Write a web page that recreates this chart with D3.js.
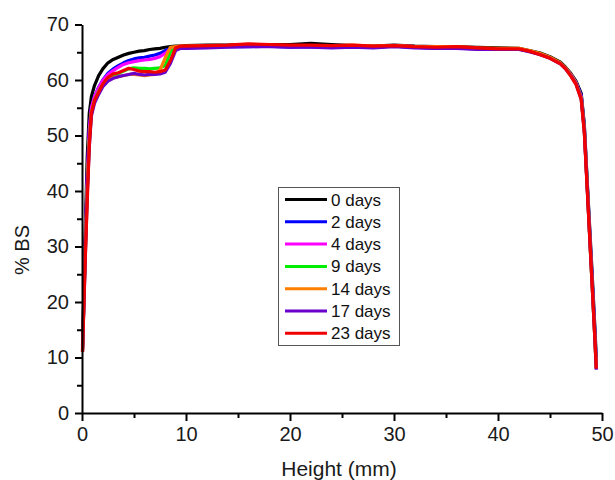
<!DOCTYPE html>
<html>
<head>
<meta charset="utf-8">
<script src="https://cdn.jsdelivr.net/npm/d3@7"></script>
<style>
  body { margin: 0; background: #fff; }
  text { font-family: Arial, "Liberation Sans", sans-serif; }
</style>
</head>
<body>
<script>
// sample heights (mm), shared by all series
var heights = [0.05, 0.3, 0.5, 0.7, 0.9, 1.2, 1.6, 2.0, 2.5, 3.0, 3.5, 4.0, 4.5, 5.0, 5.5, 6.0, 6.5, 7.0, 7.5, 8.0, 8.5, 9.0, 9.5, 10,
  12, 14, 16, 18, 20, 22, 24, 26, 28, 30, 32, 34, 36, 38, 40, 42, 43, 44, 45, 46, 46.5, 47, 47.5, 48, 48.3, 48.6, 49.0, 49.3, 49.45];

var days0 = [12, 32, 46, 54, 57, 59, 60.8, 62, 63.1, 63.7, 64.1, 64.5, 64.8, 65.0, 65.2, 65.3, 65.5, 65.6, 65.7, 65.9, 66.0, 66.1, 66.1, 66.2,
  66.3, 66.3, 66.4, 66.4, 66.4, 66.6, 66.4, 66.2, 66.1, 66.3, 66.1, 66.0, 66.0, 65.9, 65.8, 65.7, 65.3, 64.9, 64.2, 63.2, 62.3, 61.2, 59.8, 57.6, 52, 41, 27, 16, 10];
var days2 = [11.5, 29, 42, 51, 55, 57, 58.7, 60, 61.2, 62, 62.6, 63.1, 63.5, 63.8, 64.0, 64.1, 64.3, 64.5, 64.8, 65.3, 65.7, 65.8, 65.8, 65.8,
  65.9, 66.0, 66.0, 66.1, 65.9, 66.0, 65.9, 66.0, 65.9, 66.1, 65.9, 65.7, 65.8, 65.6, 65.6, 65.6, 65.2, 64.7, 64.0, 63.0, 62.1, 61.0, 59.6, 57.3, 51.5, 40.5, 26, 15, 9];
var days4 = [11.5, 29, 42, 51, 55, 57, 58.6, 59.9, 61.0, 61.7, 62.3, 62.8, 63.1, 63.3, 63.5, 63.6, 63.7, 63.9, 64.2, 64.8, 65.6, 65.9, 66.0, 66.0,
  66.1, 66.1, 66.2, 66.2, 66.1, 66.1, 66.0, 66.1, 66.0, 66.2, 66.0, 65.8, 65.9, 65.7, 65.6, 65.6, 65.2, 64.7, 64.0, 63.0, 62.1, 61.0, 59.5, 57.0, 51, 40, 25.5, 14.5, 8.5];
var days9 = [11.2, 28, 40, 49, 54, 56.3, 57.9, 59.2, 60.3, 60.8, 61.2, 61.6, 62.0, 62.2, 62.1, 62.1, 62.0, 62.1, 62.2, 62.6, 65.0, 65.8, 65.9, 65.9,
  66.0, 66.1, 66.2, 66.2, 66.1, 66.1, 66.0, 66.1, 66.0, 66.1, 65.9, 65.8, 65.9, 65.7, 65.6, 65.6, 65.2, 64.7, 64.0, 63.0, 62.1, 60.9, 59.4, 56.8, 51, 40, 25, 14, 8];
var days14 = [11.2, 28, 40, 49, 54, 56.2, 57.7, 59.0, 60.0, 60.4, 60.6, 60.8, 61.0, 61.0, 60.9, 60.8, 60.9, 61.0, 61.8, 64.0, 65.9, 66.0, 66.1, 66.1,
  66.2, 66.2, 66.4, 66.3, 66.2, 66.2, 66.1, 66.3, 66.1, 66.2, 66.0, 66.0, 66.0, 65.8, 65.7, 65.7, 65.3, 64.8, 64.1, 63.1, 62.2, 61.0, 59.5, 56.8, 51, 40, 25, 14, 8];
var days17 = [11, 27, 39, 48, 53.5, 55.8, 57.4, 58.8, 59.8, 60.3, 60.6, 60.8, 61.0, 61.2, 61.0, 60.9, 61.0, 61.0, 61.1, 61.4, 63.0, 65.3, 65.7, 65.7,
  65.8, 65.9, 66.0, 66.0, 65.9, 65.9, 65.8, 65.9, 65.8, 66.0, 65.8, 65.7, 65.7, 65.5, 65.5, 65.5, 65.1, 64.6, 63.9, 62.9, 62.0, 60.8, 59.3, 56.6, 50.8, 39.8, 25, 14, 7.8];
var days23 = [11, 27, 38, 48, 54, 56.3, 57.8, 59.3, 60.5, 61.1, 61.3, 61.7, 62.1, 61.9, 61.6, 61.5, 61.5, 61.4, 61.5, 61.8, 63.5, 65.8, 66.1, 66.1,
  66.2, 66.3, 66.5, 66.4, 66.3, 66.3, 66.2, 66.3, 66.1, 66.2, 66.0, 65.9, 66.0, 65.8, 65.6, 65.6, 65.2, 64.6, 63.9, 62.9, 62.0, 60.7, 59.2, 56.5, 50.5, 39.5, 25, 14, 8];

var seriesNames = ["0 days", "2 days", "4 days", "9 days", "14 days", "17 days", "23 days"];
var seriesValues = [days0, days2, days4, days9, days14, days17, days23];
var colors = ["#000000", "#0000ff", "#ff00ff", "#00ee00", "#ff8000", "#6a00cc", "#f00000"];

var xTicks = [0, 10, 20, 30, 40, 50];
var yTicks = [0, 10, 20, 30, 40, 50, 60, 70];

var width = 615, height = 480;

var svg = d3.select("body").append("svg")
    .attr("width", width)
    .attr("height", height);

var x = d3.scaleLinear().domain([0, 50]).range([82, 602]);
var y = d3.scaleLinear().domain([0, 70]).range([413, 24.5]);

// lines
var line = d3.line()
    .x(function(d) { return x(d[0]); })
    .y(function(d) { return y(d[1]); });

seriesValues.forEach(function(vals, i) {
  var pts = heights.map(function(h, j) { return [h, vals[j]]; });
  svg.append("path")
      .datum(pts)
      .attr("d", line)
      .attr("fill", "none")
      .attr("stroke", colors[i])
      .attr("stroke-width", 3.2)
      .attr("stroke-linejoin", "round");
});

// axes
svg.append("g")
    .attr("transform", "translate(0," + y(0) + ")")
    .call(d3.axisBottom(x).tickValues(xTicks).tickSize(8).tickPadding(6).tickSizeOuter(0));
svg.append("g")
    .attr("transform", "translate(0," + y(0) + ")")
    .call(d3.axisBottom(x).tickValues([5, 15, 25, 35, 45]).tickSize(5).tickFormat(""))
    .select(".domain").remove();

svg.append("g")
    .attr("transform", "translate(" + x(0) + ",0)")
    .call(d3.axisLeft(y).tickValues(yTicks).tickSize(7).tickPadding(6).tickSizeOuter(0));
svg.append("g")
    .attr("transform", "translate(" + x(0) + ",0)")
    .call(d3.axisLeft(y).tickValues([5, 15, 25, 35, 45, 55, 65]).tickSize(5).tickFormat(""))
    .select(".domain").remove();

svg.selectAll(".domain").attr("stroke-width", 2).attr("stroke", "#000");
svg.selectAll(".tick line").attr("stroke-width", 2).attr("stroke", "#000");
svg.selectAll(".tick text")
    .attr("font-size", 20)
    .attr("font-family", "Arial, 'Liberation Sans', sans-serif")
    .attr("fill", "#1a1a1a");

svg.append("text")
    .attr("x", 339)
    .attr("y", 476)
    .attr("text-anchor", "middle")
    .attr("font-size", 21)
    .attr("fill", "#1a1a1a")
    .text("Height (mm)");

svg.append("text")
    .attr("transform", "translate(29,250) rotate(-90)")
    .attr("text-anchor", "middle")
    .attr("font-size", 20)
    .attr("fill", "#1a1a1a")
    .text("% BS");

// legend
var legend = svg.append("g");
legend.append("rect")
    .attr("x", 278.5).attr("y", 187.5)
    .attr("width", 121).attr("height", 158)
    .attr("fill", "#fff")
    .attr("stroke", "#555")
    .attr("stroke-width", 1);

seriesNames.forEach(function(name, i) {
  var cy = 199.5 + i * 22.3;
  legend.append("line")
      .attr("x1", 285).attr("x2", 327)
      .attr("y1", cy).attr("y2", cy)
      .attr("stroke", colors[i])
      .attr("stroke-width", 3);
  legend.append("text")
      .attr("x", 331).attr("y", cy + 6)
      .attr("font-size", 17)
      .attr("fill", "#111")
      .text(name);
});
</script>
</body>
</html>
